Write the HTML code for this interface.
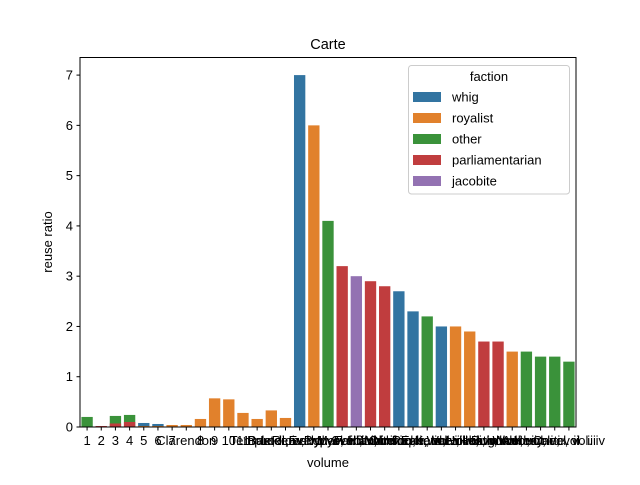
<!DOCTYPE html>
<html><head><meta charset="utf-8"><style>
body{margin:0;background:#fff}
svg{font-family:"Liberation Sans","DejaVu Sans",sans-serif}
</style></head><body>
<svg id="chart" width="640" height="480" xmlns="http://www.w3.org/2000/svg">
<rect width="640" height="480" fill="#fff"/>
<text x="328" y="49" font-size="14.5" text-anchor="middle" fill="#000">Carte</text>
<g id="bars"></g>
<g id="yaxis"></g>
<g id="xaxis"></g>
<rect x="80" y="57.5" width="496" height="369.5" fill="none" stroke="#000" stroke-width="1"/>
<text x="328" y="467" font-size="13" text-anchor="middle">volume</text>
<text transform="translate(52,242) rotate(-90)" font-size="13" text-anchor="middle">reuse ratio</text>
<g id="legend"></g>
</svg>
<script>
const categories=["1","2","3","4","5","6","7","Clarendon","8","9","10","11","Temple, ii","Baxter, i","Burnet, vol. 1","Ludlow, vol. 2","Reresby, vol. ii","Evelyn, vol. iii","Pepys, vol. iv","Marvell, vol. ii","Fairfax, vol. i","Hutchinson, i","Whitelocke, ii","Oldmixon, vol. i","Rapin, vol. ii","Echard, vol. iii","Kennet, vol. iv","Warwick, vol. v","Holles, vol. vi","Heath, vol. vii","Dugdale, vol. i","Wood, vol. i","Aubrey, vol. ii","Hearne, vol. iii","Carte, vol. iv"];
const factions=["whig","royalist","other","parliamentarian","jacobite"];
const colors=["#3274a1","#e1812c","#3a923a","#c03d3e","#9372b2"];
const catIdx=[0,1,2,2,3,3,4,4,5,5,6,7,8,9,10,11,12,13,14,15,16,17,18,19,20,21,22,23,24,25,26,27,28,29,30,31,32,33,34];
const faction=[2,3,2,3,2,3,0,1,0,1,1,1,1,1,1,1,1,1,1,0,1,2,3,4,3,3,0,0,2,0,1,1,3,3,1,2,2,2,2];
const values=[0.2,0.02,0.22,0.07,0.24,0.1,0.08,0.02,0.06,0.02,0.04,0.04,0.16,0.57,0.55,0.28,0.16,0.33,0.18,7.0,6.0,4.1,3.2,3.0,2.9,2.8,2.7,2.3,2.2,2.0,2.0,1.9,1.7,1.7,1.5,1.5,1.4,1.4,1.3];
const yTicks=[0,1,2,3,4,5,6,7];
const NS="http://www.w3.org/2000/svg";
const L=80,R=576,T=57.5,B=427,ymax=7.35;
const band=(R-L)/categories.length;
const xs=i=>L+band*(i+0.5);
const ys=v=>B-(v/ymax)*(B-T);
function mk(tag,attrs,parent){const e=document.createElementNS(NS,tag);for(const k in attrs)e.setAttribute(k,attrs[k]);parent.appendChild(e);return e;}
const bars=document.getElementById('bars');
values.forEach((v,k)=>{
  const i=catIdx[k];
  const r=mk('rect',{x:xs(i)-band*0.4,y:ys(v),width:band*0.8,height:B-ys(v),fill:colors[faction[k]]},bars);
  
  
});
const ya=document.getElementById('yaxis');
yTicks.forEach(t=>{
  const y=ys(t);
  const l=mk('line',{x1:L-3.5,x2:L,y1:y,y2:y,stroke:'#000'},ya);
  
  
  const tx=mk('text',{x:L-7,y:y+4.5,'font-size':13,'text-anchor':'end'},ya);
  tx.textContent=t;
  
  
});
const xa=document.getElementById('xaxis');
categories.forEach((c,i)=>{
  const x=xs(i);
  const l=mk('line',{x1:x,x2:x,y1:B,y2:B+3.5,stroke:'#000'},xa);
  
  
  const tx=mk('text',{x:x,y:B+18,'font-size':13,'text-anchor':'middle'},xa);
  tx.textContent=c;
  
  
});
const lg=document.getElementById('legend');
const box=mk('rect',{x:408.5,y:65.5,width:161,height:128.5,rx:3,fill:'#fff','fill-opacity':0.8,stroke:'#ccc'},lg);


const lt=mk('text',{x:489,y:81,'font-size':13,'text-anchor':'middle'},lg);
lt.textContent='faction';


factions.forEach((f,j)=>{
  const cy=97+j*21;
  const p=mk('rect',{x:413,y:cy-5,width:28,height:10,fill:colors[j]},lg);
  
  
  const t=mk('text',{x:452,y:cy+4.5,'font-size':13},lg);
  t.textContent=f;
  
  
});
</script>
</body></html>
